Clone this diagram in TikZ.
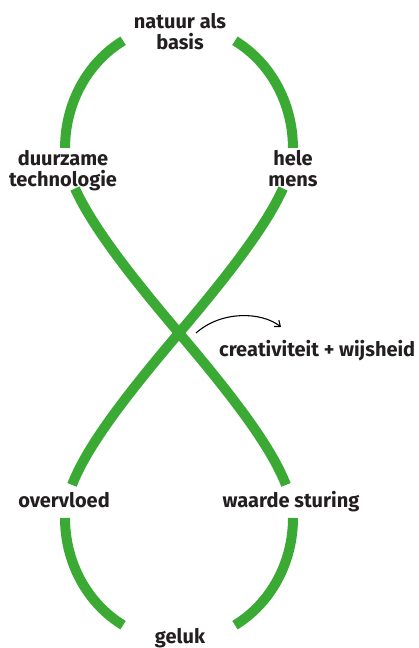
\documentclass[tikz,border=0pt]{standalone}
\usepackage{fontspec}
\setmainfont{Fira Sans}
\usetikzlibrary{arrows.meta}
\definecolor{loopgreen}{RGB}{58,170,53}
\definecolor{labelgray}{RGB}{35,31,32}
\begin{document}
\begin{tikzpicture}[x=1pt,y=1pt,
  band/.style={draw=loopgreen, line width=10pt, line cap=butt},
  lbl/.style={font=\fontsize{20}{21.5}\selectfont\bfseries, text=labelgray, inner sep=0pt, align=center},
  pointer/.style={draw=black, line width=1.1pt, -{Straight Barb[length=5pt,width=8pt]}}
  ]
\useasboundingbox (0,0) rectangle (419,648);
\coordinate (C) at (179,315);
% top loop arcs
\draw[band] (123.1,607.2) arc[start angle=119.4, end angle=180, x radius=114pt, y radius=123pt];
\draw[band] (234.9,607.2) arc[start angle=60.6, end angle=0, x radius=114pt, y radius=123pt];
% diagonals through the crossing
\draw[band] (75.0,459.5) .. controls (91.0,424.15) and (125.45,378) .. (C)
  .. controls (236.4,247.5) and (271.8,199.7) .. (285.95,163.1);
\draw[band] (283.0,459.5) .. controls (267.0,424.15) and (232.55,378) .. (C)
  .. controls (121.6,247.5) and (86.2,199.7) .. (72.05,163.1);
% bottom loop arcs
\draw[band] (65,130) arc[start angle=180, end angle=240.6, x radius=114pt, y radius=123pt];
\draw[band] (293,130) arc[start angle=360, end angle=299.4, x radius=114pt, y radius=123pt];
% labels
\node[lbl, anchor=base] (nat) at (180,598) {natuur als\\basis};
\node[lbl, anchor=base] (duur) at (63,461) {duurzame\\technologie};
\node[lbl, anchor=base] (hele) at (293,461) {hele\\mens};
\node[lbl, anchor=base west] (crea) at (219,291) {creativiteit + wijsheid};
\node[lbl, anchor=base] (over) at (64,140) {overvloed};
\node[lbl, anchor=base] (waar) at (291,140) {waarde sturing};
\node[lbl, anchor=base] (gel) at (180,5) {geluk};
% arrow
\coordinate (a1) at (196,315);
\coordinate (a2) at (281,321);
\draw[pointer] (a1) .. controls (222,338) and (262,336) .. (a2);
\end{tikzpicture}
\end{document}
